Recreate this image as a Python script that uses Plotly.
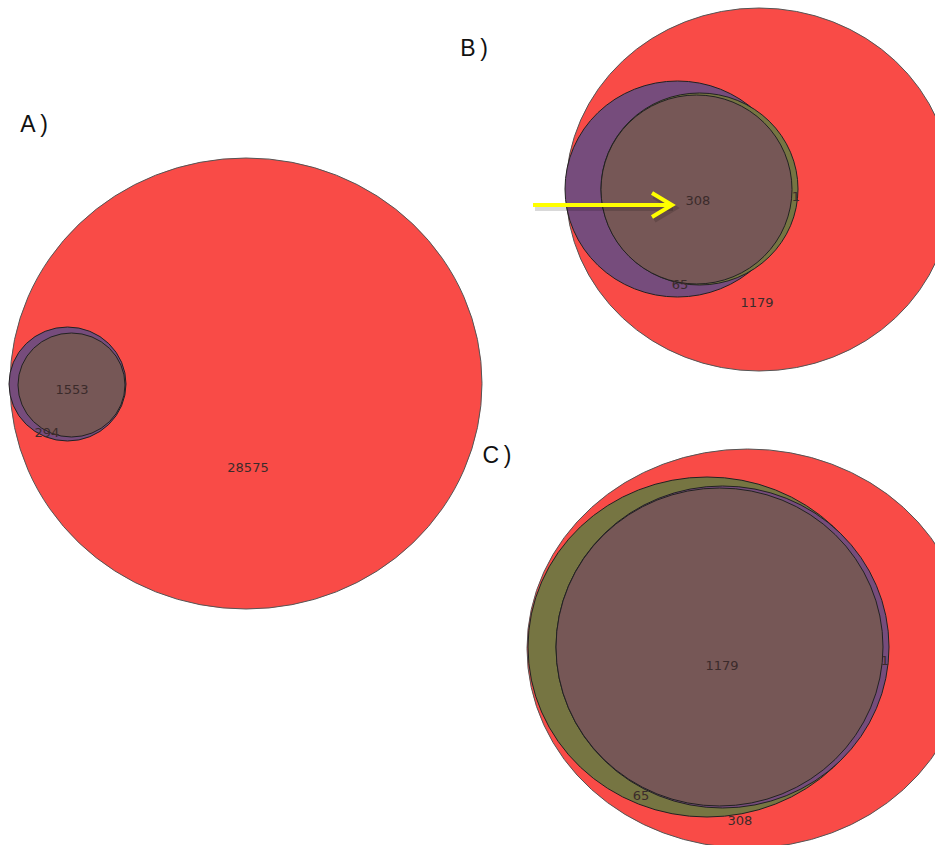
import plotly.graph_objects as go

# ---- set sizes shown in each panel ----
panel_labels = ["A\u2009)", "B\u2009)", "C\u2009)"]
counts_a = [28575, 1553, 294]
counts_b = [308, 65, 1179, 1]
counts_c = [1179, 65, 308, 1]

# ---- drawing style ----
RED = "#F94B47"
PURPLE = "#764C7C"
BROWN = "#765756"
OLIVE = "#767542"
EDGE = "#222222"
EDGE_OUTER = "#555555"
W, H = 935, 845

# circle boxes (x0, x1, y0, y1) in page units, drawn bottom to top
circles = [
    # panel A
    (10, 482, 158, 609, RED, EDGE_OUTER),
    (9, 126, 327, 441, PURPLE, EDGE),
    (18, 125, 333, 437, BROWN, EDGE),
    # panel B
    (566, 952, 8, 371, RED, EDGE_OUTER),
    (565, 790, 81, 297, PURPLE, EDGE),
    (601, 798, 93, 285, OLIVE, EDGE),
    (601, 792, 95, 284, BROWN, EDGE),
    # panel C
    (527, 968, 449, 848, RED, EDGE_OUTER),
    (528, 886, 477, 817, OLIVE, EDGE),
    (556, 889, 486, 808, PURPLE, EDGE),
    (556, 883, 488, 806, BROWN, EDGE),
]

# label anchor points for the counts
pos_a = [(248, 469), (72, 391), (47, 434)]
pos_b = [(698, 202), (680, 286), (757, 304), (796, 198)]
pos_c = [(722, 667), (641, 797), (740, 822), (885, 662)]
pos_panels = [(34, 126), (474, 50), (497, 457)]

fig = go.Figure()

shapes = []
for x0, x1, y0, y1, col, edge in circles:
    shapes.append(dict(type="circle", xref="x", yref="y", x0=x0, x1=x1, y0=y0, y1=y1,
                       fillcolor=col, line=dict(color=edge, width=1), layer="below"))

# yellow pointer with its soft shadow
for dx, dy, col, wd in [(2, 3, "rgba(0,0,0,0.15)", 6), (0, 0, "#FFFF00", 4)]:
    shapes.append(dict(type="path", xref="x", yref="y",
                       path=f"M {533+dx} {205+dy} L {671+dx} {205+dy}",
                       line=dict(color=col, width=wd)))
    shapes.append(dict(type="path", xref="x", yref="y",
                       path=f"M {652+dx} {193+dy} L {672+dx} {205+dy} L {652+dx} {217+dy}",
                       line=dict(color=col, width=wd)))

xs, ys, ts = [], [], []
for cnts, pts in [(counts_a, pos_a), (counts_b, pos_b), (counts_c, pos_c)]:
    for v, (px, py) in zip(cnts, pts):
        xs.append(px)
        ys.append(py)
        ts.append(str(v))

fig.add_trace(go.Scatter(x=xs, y=ys, mode="text", text=ts,
                         textfont=dict(family="DejaVu Sans", size=13, color="#3b2b2b"),
                         hoverinfo="skip", showlegend=False))

fig.add_trace(go.Scatter(x=[p[0] for p in pos_panels], y=[p[1] for p in pos_panels],
                         mode="text", text=panel_labels,
                         textfont=dict(family="Liberation Sans", size=23, color="#111111"),
                         hoverinfo="skip", showlegend=False))

fig.update_layout(
    width=W, height=H,
    margin=dict(l=0, r=0, t=0, b=0),
    paper_bgcolor="white", plot_bgcolor="white",
    shapes=shapes,
    xaxis=dict(range=[0, W], visible=False, fixedrange=True),
    yaxis=dict(range=[H, 0], visible=False, fixedrange=True),
    showlegend=False,
)

fig.write_html("out.html")
